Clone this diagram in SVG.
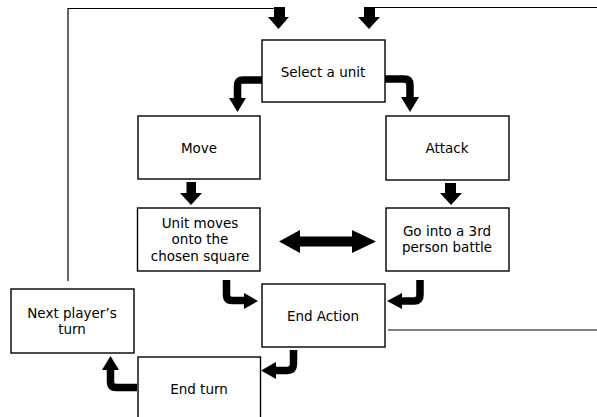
<svg xmlns="http://www.w3.org/2000/svg" width="597" height="417" viewBox="0 0 597 417">
<style>
.box{fill:#fff;stroke:#000;stroke-width:1.4}
.t{font-family:"DejaVu Sans",Verdana,sans-serif;font-size:13.5px;fill:#000;text-anchor:middle}
.ln{fill:none;stroke:#000;stroke-width:1.2}
.sh{fill:none;stroke:#000;stroke-width:7.5}
.hd{fill:#000;stroke:none}
</style>
<rect width="597" height="417" fill="#fff"/>
<g id="connectors">
<polyline class="ln" points="68,281 68,8.5 276,8.5"/>
<polyline class="ln" points="373,7.5 597,7.5"/>
<line class="ln" x1="388" y1="330" x2="597" y2="330"/>
<rect class="hd" x="274" y="7" width="11" height="11"/>
<polygon class="hd" points="268,17 289,17 278.5,29"/>
<rect class="hd" x="364" y="7" width="11" height="11"/>
<polygon class="hd" points="358,17 380,17 369,29"/>
<path class="sh" d="M262,80 H243 Q237.5,80 237.5,86 V99"/>
<polygon class="hd" points="229,98 246,98 237.5,112"/>
<path class="sh" d="M385,79 H404 Q410,79 410,85 V98"/>
<polygon class="hd" points="401,97 419,97 410,112"/>
<rect class="hd" x="186.5" y="182" width="9.5" height="12"/>
<polygon class="hd" points="180,193 202,193 191,205"/>
<rect class="hd" x="445" y="183" width="11" height="11"/>
<polygon class="hd" points="440,193 462,193 451,205"/>
<polygon class="hd" points="279,241.5 300,230 300,236.5 352,236.5 352,230 376,241.5 352,253 352,246.5 300,246.5 300,253"/>
<path class="sh" d="M226.5,280 V295 Q226.5,300.5 232,300.5 H246"/>
<polygon class="hd" points="244,293 258,301 244,309"/>
<path class="sh" d="M420,280 V295 Q420,301 414,301 H400"/>
<polygon class="hd" points="402,293 387,301 402,309"/>
<path class="sh" d="M293.5,350 V364 Q293.5,370.5 287,370.5 H274"/>
<polygon class="hd" points="276,362 261,370.5 276,379"/>
<path class="sh" d="M137,387.5 H116 Q110.5,387.5 110.5,382 V368"/>
<polygon class="hd" points="102,370 119,370 110.5,356"/>
</g>
<g id="select">
<rect class="box" x="262" y="40" width="123" height="62"/>
<text class="t" x="323" y="77">Select a unit</text>
</g>
<g id="move">
<rect class="box" x="138" y="116" width="122" height="63"/>
<text class="t" x="199" y="153">Move</text>
</g>
<g id="attack">
<rect class="box" x="386" y="116" width="123" height="64"/>
<text class="t" x="447" y="153">Attack</text>
</g>
<g id="unitmoves">
<rect class="box" x="137.5" y="208" width="122.5" height="63"/>
<text class="t" x="200" y="227.5">Unit moves</text>
<text class="t" x="200" y="244">onto the</text>
<text class="t" x="200" y="260.5">chosen square</text>
</g>
<g id="battle">
<rect class="box" x="386" y="208" width="123" height="63"/>
<text class="t" x="447" y="235.5">Go into a 3rd</text>
<text class="t" x="447" y="252">person battle</text>
</g>
<g id="endaction">
<rect class="box" x="262" y="284" width="123" height="63"/>
<text class="t" x="323" y="321">End Action</text>
</g>
<g id="nextplayer">
<rect class="box" x="11" y="289" width="123" height="64"/>
<text class="t" x="72" y="318">Next player’s</text>
<text class="t" x="72" y="334">turn</text>
</g>
<g id="endturn">
<rect class="box" x="138" y="357" width="122.5" height="70"/>
<text class="t" x="199" y="394">End turn</text>
</g>
</svg>
